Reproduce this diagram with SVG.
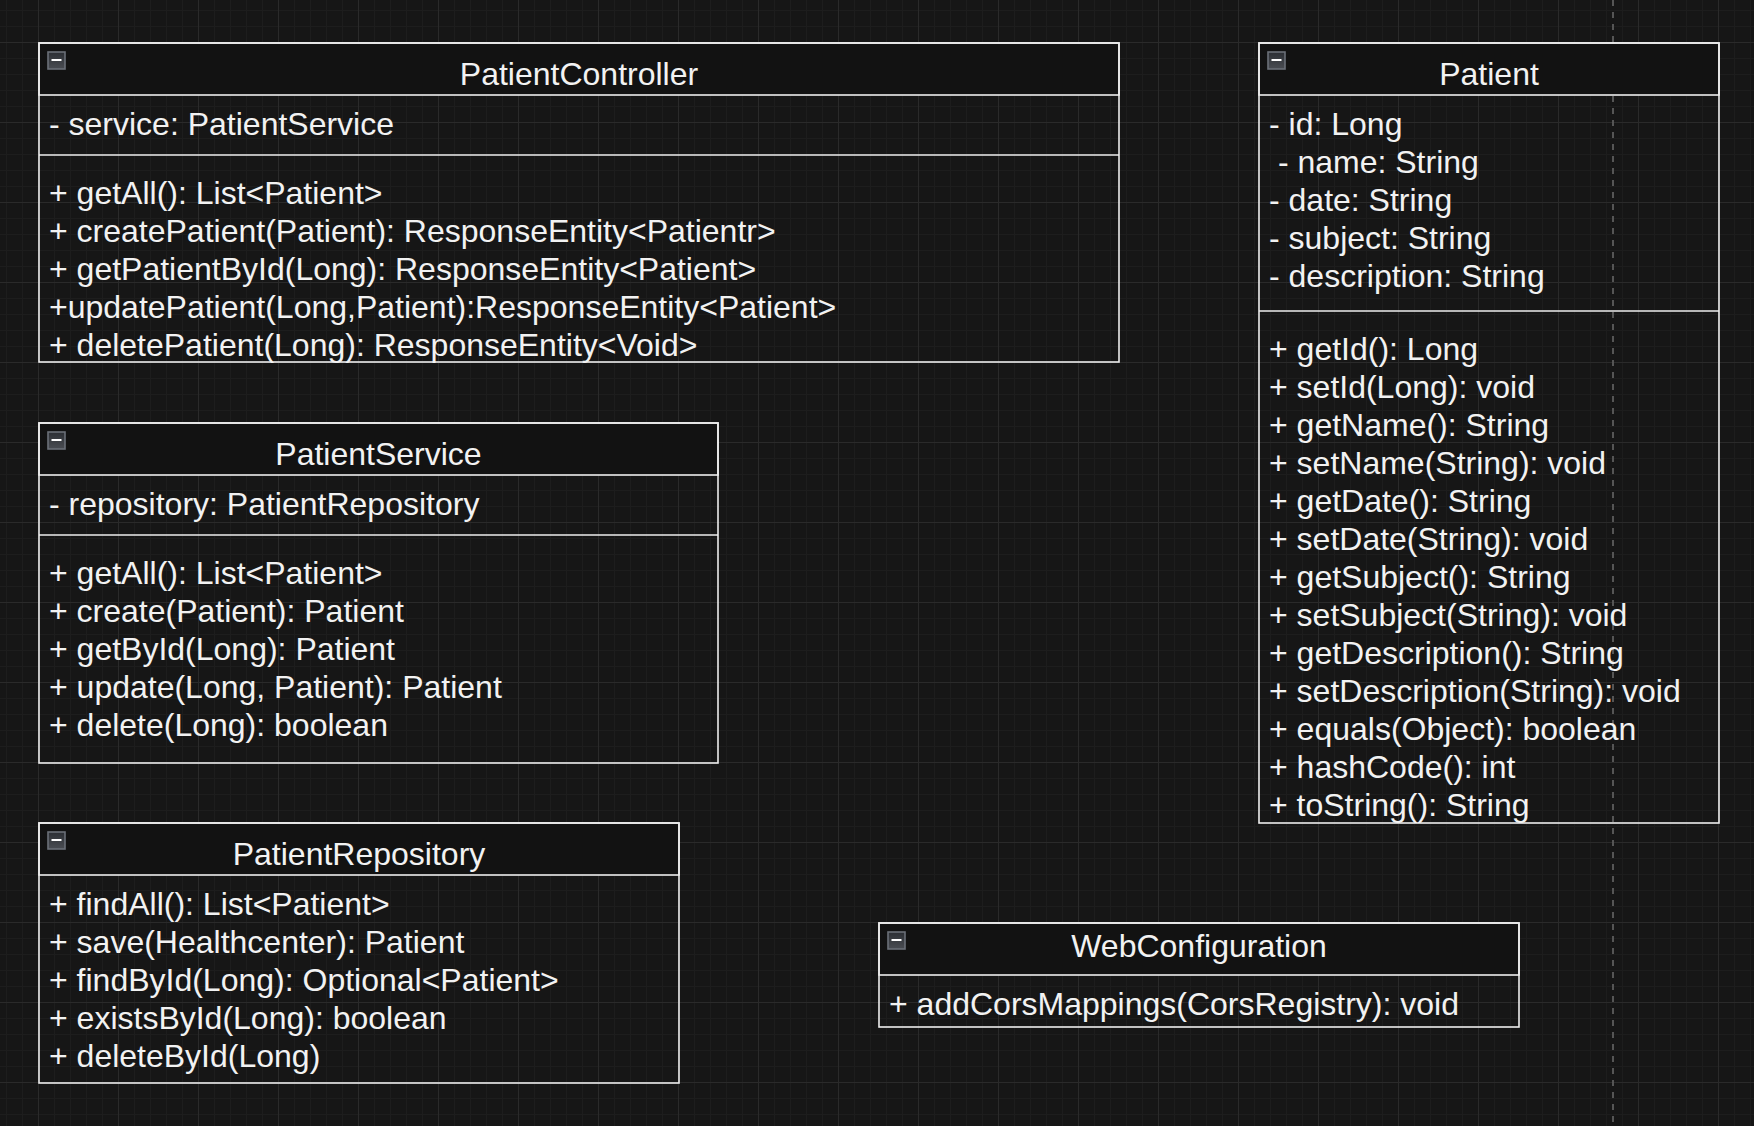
<svg xmlns="http://www.w3.org/2000/svg" width="1754" height="1126" viewBox="0 0 1754 1126">
  <style>
    .box { fill: none; stroke: #eeeeee; stroke-width: 1.6; }
    .hdr { fill: #121212; stroke: #eeeeee; stroke-width: 1.6; }
    .sep { stroke: #eeeeee; stroke-width: 1.6; }
    .title { font-family: "Liberation Sans", Arial, sans-serif; font-size: 32px; fill: #f2f2f2; text-anchor: middle; }
    .t { font-family: "Liberation Sans", Arial, sans-serif; font-size: 32px; fill: #f2f2f2; white-space: pre; }
    .icon { fill: url(#iconGrad); stroke: #6b7078; stroke-width: 1.6; }
    .minus { stroke: #ffffff; stroke-width: 2; }
  </style>
  <defs>
    <pattern id="grid" patternUnits="userSpaceOnUse" x="38" y="42" width="80" height="80">
      <rect x="16" y="0" width="1" height="80" fill="#1d1d1d"/>
      <rect x="32" y="0" width="1" height="80" fill="#1d1d1d"/>
      <rect x="48" y="0" width="1" height="80" fill="#1d1d1d"/>
      <rect x="64" y="0" width="1" height="80" fill="#1d1d1d"/>
      <rect x="0" y="16" width="80" height="1" fill="#1d1d1d"/>
      <rect x="0" y="32" width="80" height="1" fill="#1d1d1d"/>
      <rect x="0" y="48" width="80" height="1" fill="#1d1d1d"/>
      <rect x="0" y="64" width="80" height="1" fill="#1d1d1d"/>
      <rect x="0" y="0" width="1" height="80" fill="#2a2a2a"/>
      <rect x="0" y="0" width="80" height="1" fill="#2a2a2a"/>
    </pattern>
    <linearGradient id="iconGrad" x1="0" y1="0" x2="0" y2="1">
      <stop offset="0" stop-color="#2c2f34"/>
      <stop offset="1" stop-color="#4a4d53"/>
    </linearGradient>
  </defs>

  <g id="background">
    <rect x="0" y="0" width="1754" height="1126" fill="#161616"/>
    <rect x="0" y="0" width="1754" height="1126" fill="url(#grid)"/>
    <line x1="1613" y1="0" x2="1613" y2="1126" stroke="#555555" stroke-width="2" stroke-dasharray="6 6"/>
  </g>

  <g id="connectors"></g>

  <g id="PatientController">
    <rect class="hdr" x="39" y="43" width="1080" height="52"/>
    <rect class="box" x="39" y="43" width="1080" height="319"/>
    <line class="sep" x1="39" y1="155" x2="1119" y2="155"/>
    <rect class="icon" x="48" y="52" width="17" height="17"/>
    <line class="minus" x1="51.5" y1="60" x2="61.5" y2="60"/>
    <text class="title" x="579" y="85">PatientController</text>
    <text class="t" x="49" y="135">- service: PatientService</text>
    <text class="t" x="49" y="203.5">+ getAll(): List&lt;Patient&gt;</text>
    <text class="t" x="49" y="241.5">+ createPatient(Patient): ResponseEntity&lt;Patientr&gt;</text>
    <text class="t" x="49" y="279.5">+ getPatientById(Long): ResponseEntity&lt;Patient&gt;</text>
    <text class="t" x="49" y="317.5">+updatePatient(Long,Patient):ResponseEntity&lt;Patient&gt;</text>
    <text class="t" x="49" y="355.5">+ deletePatient(Long): ResponseEntity&lt;Void&gt;</text>
  </g>

  <g id="Patient">
    <rect class="hdr" x="1259" y="43" width="460" height="52"/>
    <rect class="box" x="1259" y="43" width="460" height="780"/>
    <line class="sep" x1="1259" y1="311" x2="1719" y2="311"/>
    <rect class="icon" x="1268" y="52" width="17" height="17"/>
    <line class="minus" x1="1271.5" y1="60" x2="1281.5" y2="60"/>
    <text class="title" x="1489" y="85">Patient</text>
    <text class="t" x="1269" y="135">- id: Long</text>
    <text class="t" x="1269" y="173"> - name: String</text>
    <text class="t" x="1269" y="211">- date: String</text>
    <text class="t" x="1269" y="249">- subject: String</text>
    <text class="t" x="1269" y="287">- description: String</text>
    <text class="t" x="1269" y="359.5">+ getId(): Long</text>
    <text class="t" x="1269" y="397.5">+ setId(Long): void</text>
    <text class="t" x="1269" y="435.5">+ getName(): String</text>
    <text class="t" x="1269" y="473.5">+ setName(String): void</text>
    <text class="t" x="1269" y="511.5">+ getDate(): String</text>
    <text class="t" x="1269" y="549.5">+ setDate(String): void</text>
    <text class="t" x="1269" y="587.5">+ getSubject(): String</text>
    <text class="t" x="1269" y="625.5">+ setSubject(String): void</text>
    <text class="t" x="1269" y="663.5">+ getDescription(): String</text>
    <text class="t" x="1269" y="701.5">+ setDescription(String): void</text>
    <text class="t" x="1269" y="739.5">+ equals(Object): boolean</text>
    <text class="t" x="1269" y="777.5">+ hashCode(): int</text>
    <text class="t" x="1269" y="815.5">+ toString(): String</text>
  </g>

  <g id="PatientService">
    <rect class="hdr" x="39" y="423" width="679" height="52"/>
    <rect class="box" x="39" y="423" width="679" height="340"/>
    <line class="sep" x1="39" y1="535" x2="718" y2="535"/>
    <rect class="icon" x="48" y="432" width="17" height="17"/>
    <line class="minus" x1="51.5" y1="440" x2="61.5" y2="440"/>
    <text class="title" x="378.5" y="465">PatientService</text>
    <text class="t" x="49" y="515">- repository: PatientRepository</text>
    <text class="t" x="49" y="583.5">+ getAll(): List&lt;Patient&gt;</text>
    <text class="t" x="49" y="621.5">+ create(Patient): Patient</text>
    <text class="t" x="49" y="659.5">+ getById(Long): Patient</text>
    <text class="t" x="49" y="697.5">+ update(Long, Patient): Patient</text>
    <text class="t" x="49" y="735.5">+ delete(Long): boolean</text>
  </g>

  <g id="PatientRepository">
    <rect class="hdr" x="39" y="823" width="640" height="52"/>
    <rect class="box" x="39" y="823" width="640" height="260"/>
    <rect class="icon" x="48" y="832" width="17" height="17"/>
    <line class="minus" x1="51.5" y1="840" x2="61.5" y2="840"/>
    <text class="title" x="359" y="865">PatientRepository</text>
    <text class="t" x="49" y="915">+ findAll(): List&lt;Patient&gt;</text>
    <text class="t" x="49" y="953">+ save(Healthcenter): Patient</text>
    <text class="t" x="49" y="991">+ findById(Long): Optional&lt;Patient&gt;</text>
    <text class="t" x="49" y="1029">+ existsById(Long): boolean</text>
    <text class="t" x="49" y="1067">+ deleteById(Long)</text>
  </g>

  <g id="WebConfiguration">
    <rect class="hdr" x="879" y="923" width="640" height="52"/>
    <rect class="box" x="879" y="923" width="640" height="104"/>
    <rect class="icon" x="888" y="932" width="17" height="17"/>
    <line class="minus" x1="891.5" y1="940" x2="901.5" y2="940"/>
    <text class="title" x="1199" y="957">WebConfiguration</text>
    <text class="t" x="889" y="1015">+ addCorsMappings(CorsRegistry): void</text>
  </g>
</svg>
